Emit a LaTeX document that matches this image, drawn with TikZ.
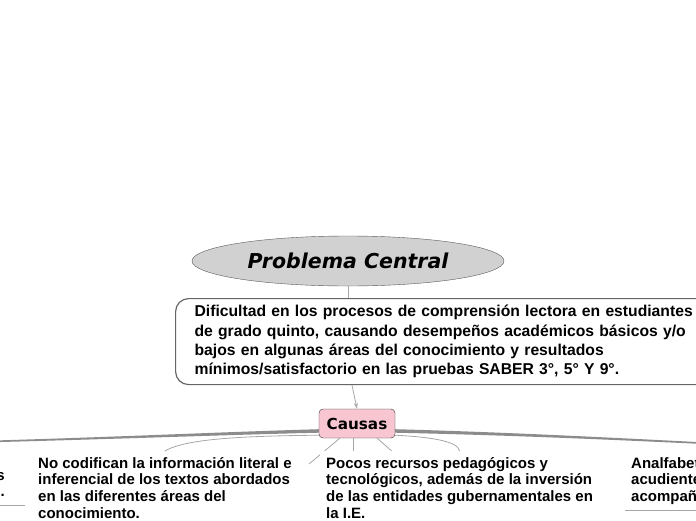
\documentclass[tikz,border=0pt]{standalone}
\usepackage{fontspec}
\setmainfont{Liberation Sans}
\newfontfamily\verdanafont{DejaVu Sans}
\usepackage{xcolor}
\usetikzlibrary{arrows.meta,shapes}
\definecolor{causapink}{HTML}{F8C6D1}
\definecolor{connGray}{HTML}{A6A6A6}
\definecolor{ramaGray}{HTML}{8C8C8C}

\begin{document}
\begin{tikzpicture}[x=1pt,y=-1pt,
central/.style={ellipse,draw=black!65,fill=black!18,minimum width=312pt,minimum height=50pt,inner sep=0pt,font=\verdanafont\bfseries\itshape\fontsize{20.5}{24}\selectfont},
problem/.style={draw=black!60,line width=1.2pt,rounded corners=13pt,fill=white,anchor=north west,text width=540pt,inner xsep=19pt,minimum height=86pt,align=left,font=\bfseries\fontsize{15.7}{19.3}\selectfont},
causa/.style={draw=black!80,rounded corners=4pt,fill=causapink,minimum width=76pt,minimum height=29pt,inner sep=0pt,font=\verdanafont\bfseries\fontsize{15.2}{18}\selectfont},
hijo/.style={fill=white,inner sep=6pt,anchor=north west,align=left,font=\bfseries\fontsize{15}{16.6}\selectfont},
conn/.style={draw=connGray,line width=0.8pt},
rama/.style={fill=ramaGray}]
\useasboundingbox(0,0)rectangle(696,520);
\node[central](central)at(348,261){Problema Central};
\node[problem](problem)at(175,298){Dificultad en los procesos de comprensión lectora en estudiantes\\de grado quinto, causando desempeños académicos básicos y/o\\bajos en algunas áreas del conocimiento y resultados\\mínimos/satisfactorio en las pruebas SABER 3°, 5° Y 9°.};
\node[causa](causas)at(357,423.5){Causas};
\draw[conn](central.south)--(central.south|-problem.north);
\draw[conn,-{Stealth[length=6pt,width=4pt]}]([xshift=-5pt]causas.north|-problem.south)--(causas.north);
\coordinate(izqfin)at(-30,442);
\coordinate(derfin)at(730,444.5);
\coordinate(bajoA)at(309,464);
\coordinate(bajoB)at(353,480);
\coordinate(bajoC)at(420,476);
\fill[rama]([yshift=9pt]causas.south west)..controls(220,432)and(120,437)..([yshift=0.8pt]izqfin)--([yshift=-0.8pt]izqfin)..controls(120,439)and(220,435)..([yshift=5.5pt]causas.south west)--cycle;
\fill[rama]([yshift=9pt]causas.south east)..controls(500,432)and(600,437)..([yshift=0.8pt]derfin)--([yshift=-0.8pt]derfin)..controls(600,439)and(500,435)..([yshift=5.5pt]causas.south east)--cycle;
\draw[conn]([xshift=21pt]causas.south west)--(bajoA);
\draw[conn]([xshift=-4pt]causas.south)--(bajoB);
\draw[conn]([xshift=-18pt]causas.south east)--(bajoC);
\node[hijo](codifican)at(32,451){No codifican la información literal e\\inferencial de los textos abordados\\en las diferentes áreas del\\conocimiento.};
\node[hijo](pocos)at(320,451){Pocos recursos pedagógicos y\\tecnológicos, además de la inversión\\de las entidades gubernamentales en\\la I.E.};
\node[hijo](analf)at(625,451){Analfabet\\acudiente\\acompañ};
\node[hijo,anchor=north east,align=right,inner xsep=20pt,inner ysep=8pt](izq)at(25,464){s\\.};
\draw[conn]([yshift=3pt]causas.south west)..controls(240,436)and(185,439)..(codifican.north);
\draw[conn]([yshift=3pt]causas.south east)..controls(430,437)and(458,441)..(pocos.north);
\draw[conn](izq.south west)--(izq.south east);
\draw[conn](analf.south west)--(analf.south east);
\end{tikzpicture}
\end{document}
